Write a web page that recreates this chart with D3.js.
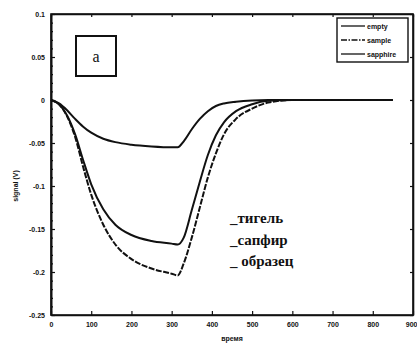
<!DOCTYPE html>
<html>
<head>
<meta charset="utf-8">
<script src="https://cdn.jsdelivr.net/npm/d3@7"></script>
<style>
  html, body { margin: 0; padding: 0; background: #fff; }
  svg { display: block; }
  .tick text { font-family: "Liberation Sans", Arial, sans-serif; font-weight: bold; font-size: 7px; fill: #111; }
</style>
</head>
<body>
<svg id="chart" width="417" height="346"></svg>
<script>
// time, s
const time = [0, 20, 40, 60, 80, 100, 130, 160, 200, 250, 300, 315, 330, 350, 370, 390, 410, 430, 460, 500, 540, 600, 700, 800, 850];
// signal, V
const emptyCrucible = [0, -0.004, -0.012, -0.022, -0.031, -0.038, -0.045, -0.049, -0.052, -0.054, -0.055, -0.055, -0.048, -0.034, -0.022, -0.013, -0.007, -0.004, -0.002, -0.0005, 0, 0, 0, 0, 0];
const sapphire = [0, -0.005, -0.018, -0.040, -0.070, -0.098, -0.127, -0.145, -0.157, -0.164, -0.167, -0.168, -0.160, -0.128, -0.095, -0.064, -0.041, -0.026, -0.013, -0.005, -0.001, 0, 0, 0, 0];
const sample = [0, -0.005, -0.019, -0.043, -0.078, -0.110, -0.145, -0.168, -0.185, -0.196, -0.202, -0.204, -0.190, -0.160, -0.125, -0.090, -0.062, -0.040, -0.022, -0.010, -0.003, 0, 0, 0, 0];

const xTicks = [0, 100, 200, 300, 400, 500, 600, 700, 800, 900];
const yTicks = [0.1, 0.05, 0, -0.05, -0.1, -0.15, -0.2, -0.25];
const xTickLabels = ["0", "100", "200", "300", "400", "500", "600", "700", "800", "900"];
const yTickLabels = ["0.1", "0.05", "0", "-0.05", "-0.1", "-0.15", "-0.2", "-0.25"];

const seriesNames = ["тигель", "сапфир", "образец"];
const legendNames = ["empty", "sample", "sapphire"];
const xLabel = "время";
const yLabel = "signal (V)";
const panelTag = "a";

const svg = d3.select("#chart");
const m = { left: 51, right: 4, top: 14, bottom: 31 };
const W = 417, H = 346;

const x = d3.scaleLinear().domain([0, 900]).range([m.left, W - m.right]);
const y = d3.scaleLinear().domain([-0.25, 0.1]).range([H - m.bottom, m.top]);

// frame
svg.append("rect")
  .attr("x", x(0)).attr("y", y(0.1))
  .attr("width", x(900) - x(0)).attr("height", y(-0.25) - y(0.1))
  .attr("fill", "none").attr("stroke", "#111").attr("stroke-width", 1.6);

// axes with inward ticks
const gx = svg.append("g").attr("transform", `translate(0,${y(-0.25)})`)
  .call(d3.axisBottom(x).tickValues(xTicks).tickSizeInner(-4).tickSizeOuter(0).tickPadding(7)
    .tickFormat((d, i) => xTickLabels[i]));
// keep the last label inside the page
gx.selectAll(".tick text").filter(d => d === 900).attr("text-anchor", "end").attr("dx", "4");
const gy = svg.append("g").attr("transform", `translate(${x(0)},0)`)
  .call(d3.axisLeft(y).tickValues(yTicks).tickSizeInner(-4).tickSizeOuter(0).tickPadding(6)
    .tickFormat((d, i) => yTickLabels[i]));
const gt = svg.append("g").attr("transform", `translate(0,${y(0.1)})`)
  .call(d3.axisTop(x).tickValues(xTicks).tickSizeInner(-3).tickSizeOuter(0).tickFormat(""));
const gr = svg.append("g").attr("transform", `translate(${x(900)},0)`)
  .call(d3.axisRight(y).tickValues(yTicks).tickSizeInner(-3).tickSizeOuter(0).tickFormat(""));
// minor ticks on the left axis
svg.append("g").attr("transform", `translate(${x(0)},0)`)
  .call(d3.axisLeft(y).tickValues(d3.range(-0.25, 0.1001, 0.01)).tickSizeInner(-2).tickSizeOuter(0).tickFormat(""));
svg.selectAll(".tick line").attr("stroke", "#111").attr("stroke-width", 1.2);
svg.selectAll(".domain").attr("stroke", "#111").attr("stroke-width", 1.6);

// curves
const line = d3.line().x(d => x(d[0])).y(d => y(d[1])).curve(d3.curveMonotoneX);
const series = [emptyCrucible, sapphire, sample];
const dashes = [null, null, "6,1.5"];
series.forEach((vals, i) => {
  svg.append("path")
    .datum(time.map((t, j) => [t, vals[j]]))
    .attr("d", line)
    .attr("fill", "none")
    .attr("stroke", "#111")
    .attr("stroke-width", 2)
    .attr("stroke-dasharray", dashes[i]);
});

// legend box
const lg = svg.append("g").attr("transform", "translate(337,18)");
lg.append("rect").attr("width", 71).attr("height", 44)
  .attr("fill", "#fff").attr("stroke", "#111").attr("stroke-width", 1.4);
const legendDash = [null, "6,1.5,1.5,1.5", null];
legendNames.forEach((n, i) => {
  const yy = 8 + i * 14;
  lg.append("line").attr("x1", 4).attr("x2", 28).attr("y1", yy).attr("y2", yy)
    .attr("stroke", "#111").attr("stroke-width", 1.3).attr("stroke-dasharray", legendDash[i]);
  lg.append("text").attr("x", 30).attr("y", yy + 2.5)
    .attr("font-family", "Liberation Sans, Arial, sans-serif").attr("font-size", 7)
    .attr("font-weight", "bold").attr("fill", "#111").text(n);
});

// panel tag
svg.append("rect").attr("x", 76).attr("y", 36).attr("width", 40).attr("height", 40)
  .attr("fill", "#fff").attr("stroke", "#111").attr("stroke-width", 2);
svg.append("text").attr("x", 96).attr("y", 62).attr("text-anchor", "middle")
  .attr("font-family", "Liberation Serif, serif").attr("font-size", 16).attr("fill", "#111").text(panelTag);

// in-plot series labels
seriesNames.forEach((n, i) => {
  svg.append("text").attr("x", 230).attr("y", 223 + i * 21.5)
    .attr("font-family", "Liberation Serif, serif").attr("font-size", 15)
    .attr("font-weight", "bold")
    .attr("fill", "#111").text((i === 2 ? "_ " : "_") + n);
});

// axis titles
svg.append("text").attr("x", x(450)).attr("y", 341).attr("text-anchor", "middle")
  .attr("font-family", "Liberation Sans, Arial, sans-serif").attr("font-size", 7)
  .attr("font-weight", "bold").attr("fill", "#111").text(xLabel);
svg.append("text").attr("transform", `translate(18,${y(-0.1)}) rotate(-90)`).attr("text-anchor", "middle")
  .attr("font-family", "Liberation Sans, Arial, sans-serif").attr("font-size", 7)
  .attr("font-weight", "bold").attr("fill", "#111").text(yLabel);
</script>
</body>
</html>
